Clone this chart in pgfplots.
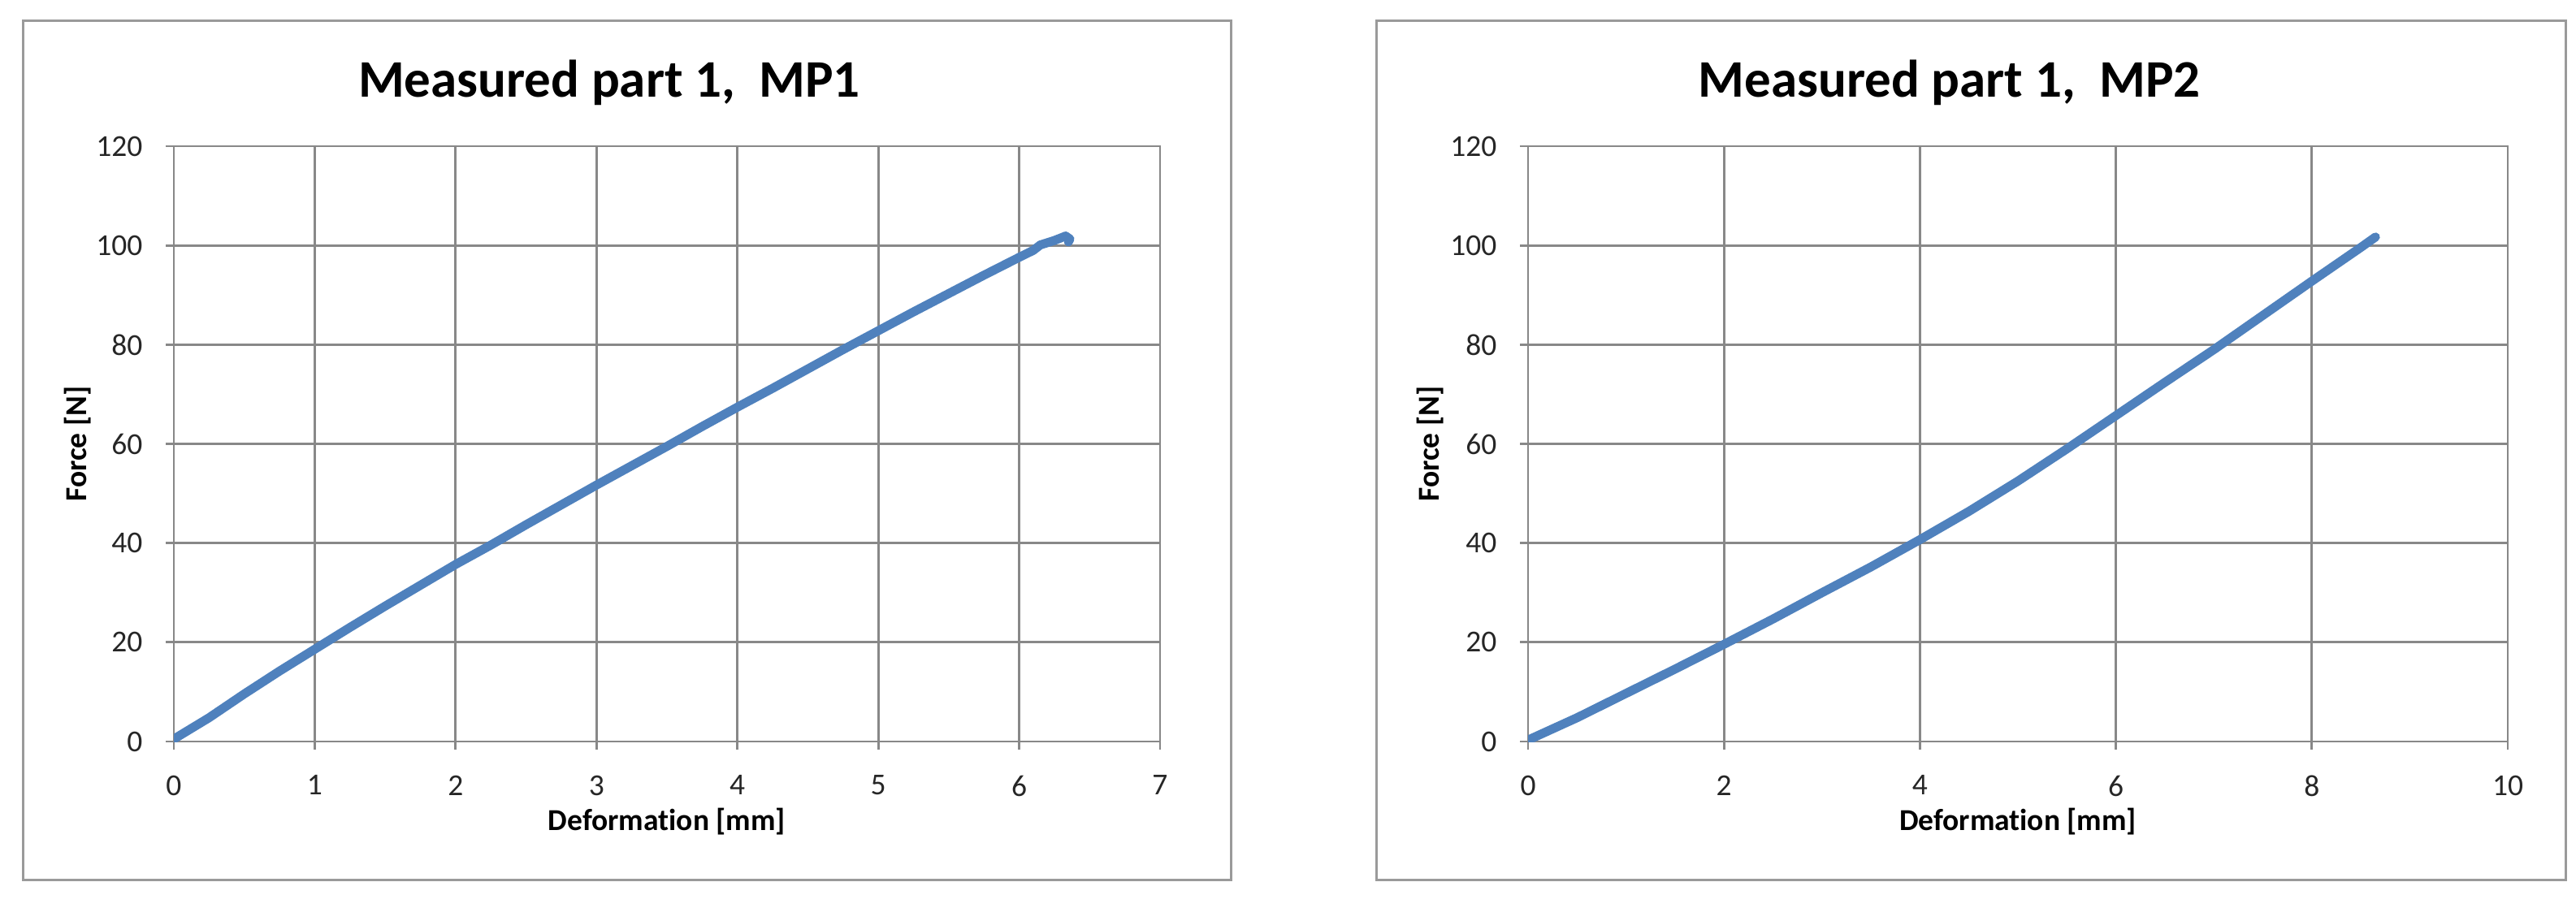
\documentclass[border=0pt]{standalone}
\usepackage{fontspec}
\setmainfont{Carlito}[Ligatures=NoCommon]
\usepackage{pgfplots}
\pgfplotsset{compat=1.18}
\definecolor{excelblue}{HTML}{4F81BD}
\definecolor{gridgray}{HTML}{888888}
\definecolor{framegray}{HTML}{9A9A9A}

% force-deformation curves
\pgfplotstableread{
x y
0.00 0.5
0.25 4.8
0.50 9.6
0.75 14.2
1.00 18.6
1.25 23.0
1.50 27.3
1.75 31.5
2.00 35.7
2.25 39.6
2.50 43.7
2.75 47.7
3.00 51.7
3.25 55.6
3.50 59.5
3.75 63.5
4.00 67.4
4.25 71.2
4.50 75.1
4.75 79.0
5.00 82.8
5.25 86.6
5.50 90.3
5.75 94.0
6.00 97.6
6.10 99.0
6.15 100.1
6.25 101.0
6.33 101.9
6.36 101.3
6.35 100.7
}\mpone

\pgfplotstableread{
x y
0.00 0.3
0.50 4.8
1.00 9.7
1.50 14.6
2.00 19.6
2.50 24.7
3.00 30.0
3.50 35.2
4.00 40.7
4.50 46.4
5.00 52.5
5.50 59.0
6.00 65.7
6.50 72.4
7.00 79.0
7.50 85.9
8.00 92.8
8.50 99.6
8.65 101.7
}\mptwo

\pgfplotsset{
  mpstyle/.style={
    scale only axis,
    height=146.6pt,
    ymin=0, ymax=120,
    ytick={0,20,...,120},
    grid=major,
    grid style={gridgray, line width=0.55pt},
    axis line style={gridgray, line width=0.55pt},
    tick style={gridgray, line width=0.55pt},
    tick align=outside,
    major tick length=2pt,
    xtick pos=bottom, ytick pos=left,
    /pgf/number format/assume math mode=true,
    tick label style={font=\fontsize{7.5}{9}\selectfont, text=black!85},
    yticklabel style={xshift=-2.2pt},
    xticklabel style={yshift=-2.8pt},
    label style={font=\fontsize{7.5}{9}\selectfont\bfseries},
    title style={font=\fontsize{13}{15.6}\selectfont\bfseries, anchor=base, yshift=-6pt},
    xlabel={Deformation [mm]},
    ylabel={Force [N]},
    x label style={at={(axis description cs:0.5,-0.135)}, anchor=center},
  },
}

\begin{document}
\begin{tikzpicture}
\path[use as bounding box] (0,0) rectangle (634.2pt,-223.4pt);

\begin{axis}[mpstyle,
    at={(42.8pt,-182.6pt)}, anchor=south west,
    width=242.8pt,
    xmin=0, xmax=7, xtick={0,...,7},
    title={Measured part 1,\ \ MP1},
    title style={at={(axis description cs:0.4415,1.082)}},
    y label style={at={(axis description cs:-0.0972,0.5)}, anchor=center},
]
\addplot[excelblue, line width=2.2pt, line join=round, line cap=round] table {\mpone};
\end{axis}

\begin{axis}[mpstyle,
    at={(376.2pt,-182.6pt)}, anchor=south west,
    width=241.2pt,
    xmin=0, xmax=10, xtick={0,2,...,10},
    title={Measured part 1,\ \ MP2},
    title style={at={(axis description cs:0.430,1.082)}},
    y label style={at={(axis description cs:-0.0995,0.5)}, anchor=center},
]
\addplot[excelblue, line width=2.2pt, line join=round, line cap=round] table {\mptwo};
\end{axis}

% chart area frames
\draw[framegray, line width=0.6pt] (5.6pt,-5pt) rectangle (303pt,-216.6pt);
\draw[framegray, line width=0.6pt] (338.8pt,-5pt) rectangle (631.6pt,-216.6pt);
\end{tikzpicture}
\end{document}
